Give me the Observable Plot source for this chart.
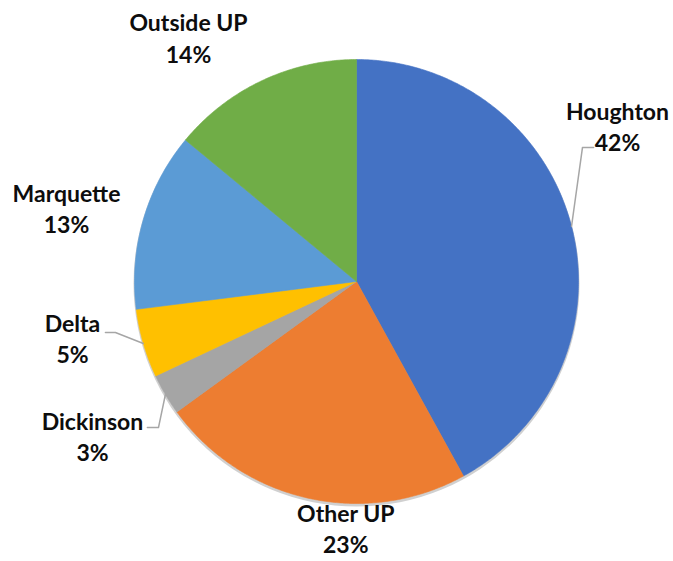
<!DOCTYPE html>
<html><head><meta charset="utf-8">
<script src="https://cdn.jsdelivr.net/npm/d3@7"></script>
<script src="https://cdn.jsdelivr.net/npm/@observablehq/plot@0.6"></script>
<style>
body{margin:0;background:#fff;}
[aria-label="pie-shadow"]{filter:blur(3px);}
</style></head><body><div id="chart"></div>
<script>
// Data
const names = ["Houghton","Other UP","Dickinson","Delta","Marquette","Outside UP"];
const shares = [42,23,3,5,13,14];
const colors = ["#4472C4","#ED7D31","#A5A5A5","#FFC000","#5B9BD5","#70AD47"];

// Layout (label placement, polar: degrees clockwise from top, radius in pie radii)
const labelAngle = [59.1,182.5,239.8,258.85,284.3,325.5];
const labelRadius = [1.37,1.108,1.376,1.304,1.348,1.336];
// Leader lines: elbow point (pie-radius units) and tail direction/length
const leaderNames = ["Houghton","Delta","Dickinson"];
const leaderElbowX = [1.018,-1.086,-0.892];
const leaderElbowY = [0.604,-0.230,-0.658];
const leaderTail = [0.05,-0.045,-0.05];

const toRad = d => d*Math.PI/180;
const arcs = d3.pie().sort(null).value(d => d.share)(names.map((n,i)=>({name:n, share:shares[i]})));

const slicePts = [];
for (const a of arcs) {
  slicePts.push({name:a.data.name, x:0, y:0});
  const n = Math.max(2, Math.ceil((a.endAngle-a.startAngle)/toRad(0.5)));
  for (let k=0;k<=n;k++){
    const t = a.startAngle + (a.endAngle-a.startAngle)*k/n;
    slicePts.push({name:a.data.name, x:Math.sin(t), y:Math.cos(t)});
  }
  slicePts.push({name:a.data.name, x:0, y:0});
}

const labels = names.map((n,i)=>({
  name:n,
  text:`${n}\n${shares[i]}%`,
  x:labelRadius[i]*Math.sin(toRad(labelAngle[i])),
  y:labelRadius[i]*Math.cos(toRad(labelAngle[i]))
}));

const leaderPts = [];
leaderNames.forEach((n,i)=>{
  const a = arcs.find(d=>d.data.name===n);
  const m = (a.startAngle+a.endAngle)/2;
  leaderPts.push({name:n, x:Math.sin(m), y:Math.cos(m)});
  leaderPts.push({name:n, x:leaderElbowX[i], y:leaderElbowY[i]});
  leaderPts.push({name:n, x:leaderElbowX[i]+leaderTail[i], y:leaderElbowY[i]});
});

const chart = Plot.plot({
  width:673, height:561,
  marginLeft:134, marginRight:95, marginTop:59, marginBottom:58,
  x:{domain:[-1,1], axis:null},
  y:{domain:[-1,1], axis:null},
  color:{domain:names, range:colors},
  style:{background:"#fff", overflow:"visible"},
  marks:[
    Plot.dot([{x:0,y:0}], {x:"x", y:"y", r:223, fill:"#d0d0d0", dy:2, ariaLabel:"pie-shadow"}),
    Plot.line(slicePts, {x:"x", y:"y", z:"name", fill:"name", stroke:"name", strokeWidth:0.6, curve:"linear"}),
    Plot.line(leaderPts, {x:"x", y:"y", z:"name", stroke:"#a6a6a6", strokeWidth:1.5}),
    Plot.text(labels, {x:"x", y:"y", text:"text", fontSize:23, fontWeight:"bold", fontFamily:"Lato", lineHeight:1.35, fill:"#0d0d0d"})
  ]
});
document.getElementById("chart").appendChild(chart);
</script></body></html>
